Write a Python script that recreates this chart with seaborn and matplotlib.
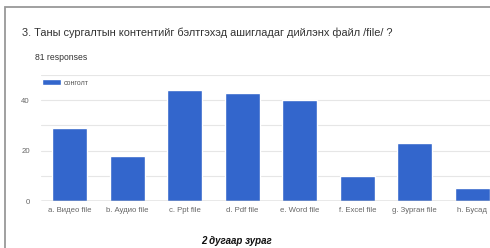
import numpy as np
import pandas as pd
import matplotlib
matplotlib.use("Agg")
import matplotlib.pyplot as plt
import seaborn as sns
from matplotlib.patches import Rectangle

categories = ["a. Видео file", "b. Аудио file", "c. Ppt file", "d. Pdf file",
              "e. Word file", "f. Excel file", "g. Зурган file", "h. Бусад"]
counts = [29, 18, 44, 43, 40, 10, 23, 5]
series_name = "сонголт"
title = "3. Таны сургалтын контентийг бэлтгэхэд ашигладаг дийлэнх файл /file/ ?"
subtitle = "81 responses"
caption = "2 дугаар зураг"

df = pd.DataFrame({"category": categories, "count": counts, "series": series_name})

sns.set_style("white")
plt.rcParams["font.family"] = ["Liberation Sans", "DejaVu Sans"]

fig = plt.figure(figsize=(4.9, 2.48), dpi=100)
ax = fig.add_axes([41 / 490, 1 - 201 / 248, 460 / 490, 126 / 248])

sns.barplot(data=df, x="category", y="count", hue="series", palette=["#3366cc"],
            width=0.61, saturation=1, ax=ax)

ax.set_xlim(-0.5, 7.5)
ax.set_ylim(0, 50)
ax.set_yticks([0, 20, 40])
ax.set_yticks([10, 30, 50], minor=True)
ax.grid(axis="y", which="both", color="#e6e6e6", linewidth=0.8)
ax.set_axisbelow(True)
ax.axhline(0, color="#999999", linewidth=1.0, zorder=3)
for s in ax.spines.values():
    s.set_visible(False)
ax.set_xlabel("")
ax.set_ylabel("")
ax.tick_params(axis="both", length=0, labelsize=5.6, colors="#666666", pad=4)
ax.tick_params(axis="y", pad=8)

ax.legend(loc="center left", bbox_to_anchor=(39 / 490, 1 - 83 / 248),
          bbox_transform=fig.transFigure, frameon=False, fontsize=5,
          handlelength=2.6, handleheight=0.9, handletextpad=0.5,
          labelcolor="#555555", borderpad=0)

fig.text(22 / 490, 1 - 33 / 248, title, fontsize=7.9, color="#333333", va="center")
fig.text(35 / 490, 1 - 57 / 248, subtitle, fontsize=6.2, color="#333333", va="center")
fig.text(237 / 490, 1 - 241 / 248, caption, fontsize=7, fontweight="bold",
         fontstyle="italic", color="#111111", ha="center", va="center")

fig.patches.append(Rectangle((5 / 490, -0.1), 1.2, 1.1 - 7 / 248,
                             transform=fig.transFigure, fill=False,
                             edgecolor="#999999", linewidth=1.3))

fig.savefig("out.png", dpi=100)
